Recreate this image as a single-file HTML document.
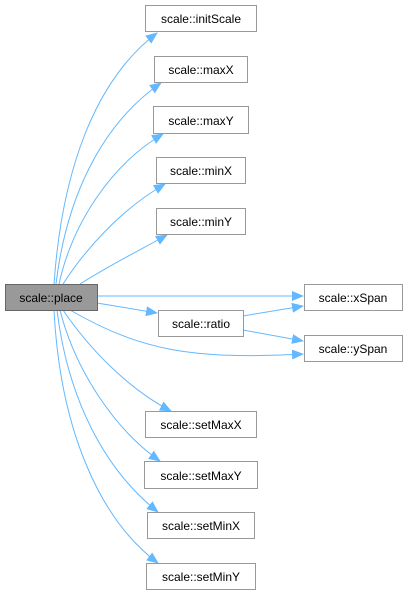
<!DOCTYPE html>
<html><head><meta charset="utf-8"><style>
html,body{margin:0;padding:0;background:#fff;}
svg{display:block;}
text{font-family:"Liberation Sans",Arial,sans-serif;font-size:12px;fill:#000;}
</style></head><body>
<svg width="408" height="595" viewBox="0 0 408 595" xmlns="http://www.w3.org/2000/svg">
<defs>
<marker id="a" markerWidth="12" markerHeight="10" refX="11" refY="5" orient="auto" markerUnits="userSpaceOnUse">
<path d="M0,0 L12,5 L0,10 Z" fill="#63b8ff"/>
</marker>
</defs>
<g fill="none" stroke="#63b8ff" stroke-width="1" marker-end="url(#a)">
<path d="M54,284 C62,170 95,80 157,33"/>
<path d="M56,284 C66,200 100,125 161,83"/>
<path d="M59,284 C72,225 110,165 163,134"/>
<path d="M63,284 C85,250 120,210 165,184"/>
<path d="M80,284 C110,265 140,250 167,235"/>
<path d="M97,296 L303,296"/>
<path d="M97,303 L157,313"/>
<path d="M70,310 C140,350 190,360 303,354"/>
<path d="M243,316 L303,306"/>
<path d="M243,330 L303,341"/>
<path d="M63,310 C90,350 130,390 171,411"/>
<path d="M60,310 C75,370 115,430 160,461"/>
<path d="M57,310 C68,400 105,470 158,512"/>
<path d="M54,310 C60,430 100,520 158,563"/>
</g>
<g stroke="#999" stroke-width="1" fill="#fff">
<rect x="145.5" y="5.5" width="111" height="26"/>
<rect x="154.5" y="56.5" width="93" height="26"/>
<rect x="153.5" y="106.5" width="95" height="27"/>
<rect x="156.5" y="157.5" width="89" height="26"/>
<rect x="156.5" y="208.5" width="89" height="26"/>
<rect x="5.5" y="284.5" width="92" height="26" fill="#999" stroke="#666"/>
<rect x="158.5" y="310.5" width="85" height="26"/>
<rect x="304.5" y="284.5" width="98" height="26"/>
<rect x="304.5" y="335.5" width="98" height="26"/>
<rect x="145.5" y="411.5" width="111" height="26"/>
<rect x="144.5" y="461.5" width="113" height="27"/>
<rect x="147.5" y="512.5" width="107" height="26"/>
<rect x="146.5" y="563.5" width="109" height="26"/>
</g>
<g text-anchor="middle">
<text x="201" y="23">scale::initScale</text>
<text x="201" y="74">scale::maxX</text>
<text x="201" y="125">scale::maxY</text>
<text x="201" y="175">scale::minX</text>
<text x="201" y="226">scale::minY</text>
<text x="51" y="302">scale::place</text>
<text x="201" y="328">scale::ratio</text>
<text x="353" y="302">scale::xSpan</text>
<text x="353" y="353">scale::ySpan</text>
<text x="201" y="429">scale::setMaxX</text>
<text x="201" y="480">scale::setMaxY</text>
<text x="201" y="530">scale::setMinX</text>
<text x="201" y="581">scale::setMinY</text>
</g>
</svg>
</body></html>
